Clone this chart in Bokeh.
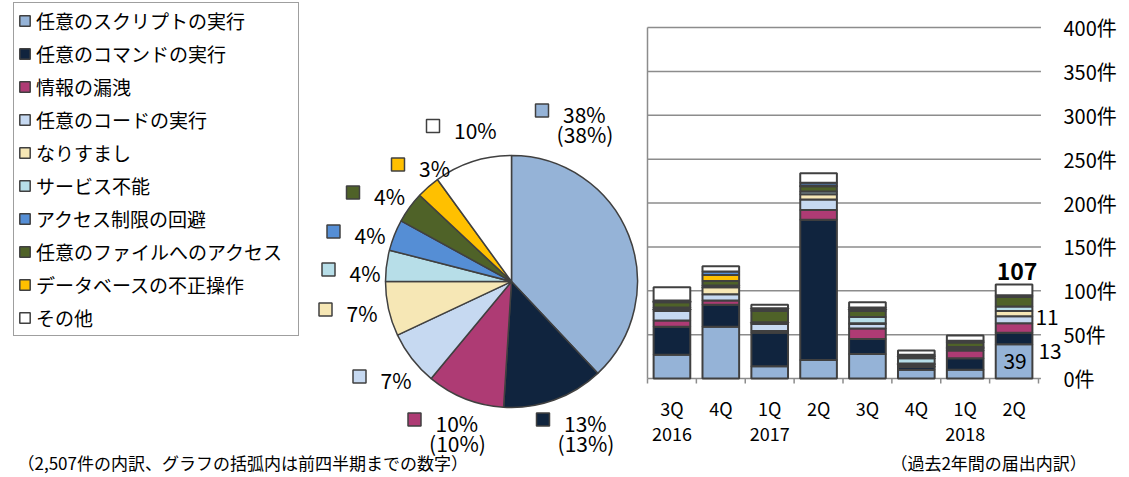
import math
from bokeh.plotting import figure
from bokeh.models import (ColumnDataSource, Range1d, Legend, LegendItem)
from bokeh.embed import file_html
from bokeh.resources import INLINE
from bokeh.core.properties import value

# ---------------- data ----------------
impacts = ["任意のスクリプトの実行", "任意のコマンドの実行", "情報の漏洩", "任意のコードの実行",
           "なりすまし", "サービス不能", "アクセス制限の回避", "任意のファイルへのアクセス",
           "データベースの不正操作", "その他"]
impact_colors = ["#95B3D7", "#10243E", "#AE3B74", "#C6D9F1", "#F6E7B5",
                 "#B7DEE8", "#558ED5", "#4F6228", "#FFC000", "#FFFFFF"]
pie_pct = [38, 13, 10, 7, 7, 4, 4, 4, 3, 10]
pie_prev_pct = [38, 13, 10, None, None, None, None, None, None, None]

quarters = ["3Q", "4Q", "1Q", "2Q", "3Q", "4Q", "1Q", "2Q"]
years = ["2016", "", "2017", "", "", "", "2018", ""]

# quarterly counts by impact (bar stacking order, bottom to top)
script = [27, 59, 14, 21, 28, 10, 10, 39]
command = [32, 25, 38, 160, 17, 3, 13, 13]
leak = [7, 5, 2, 11, 12, 1, 9, 11]
code = [11, 7, 8, 12, 5, 2, 2, 8]
spoof = [2, 8, 1, 6, 1, 1, 1, 6]
dos = [2, 2, 1, 3, 7, 6, 1, 5]
file_access = [6, 5, 13, 6, 7, 2, 5, 11]
database = [1, 7, 1, 1, 2, 1, 1, 1]
access_bypass = [1, 4, 2, 3, 2, 1, 1, 1]
other = [15, 6, 4, 11, 6, 5, 6, 12]

y_ticks = [0, 50, 100, 150, 200, 250, 300, 350, 400]
period_note = "（過去2年間の届出内訳）"
total_note = "（2,507件の内訳、グラフの括弧内は前四半期までの数字）"

# ---------------- styles / layout ----------------
JP = "Noto Sans CJK JP"
EDGE = "#404040"
GRID = "#8C8C8C"
W, H = 1128, 476
# bar panel placement on the canvas (pixels)
BX0, BX1 = 647, 1038        # left / right of the category band
BY0, BYTOP = 378, 27        # pixel rows of value 0 and of the top tick
PIE_X, PIE_Y, PIE_R = 511, 281, 126

p = figure(width=W, height=H, x_range=Range1d(0, W), y_range=Range1d(H, 0),
           output_backend="svg", toolbar_location=None, min_border=0,
           x_axis_location=None, y_axis_location=None, title=None)
p.grid.visible = False
p.outline_line_color = None

# ---- bar chart scales (extra ranges) ----
n = len(quarters)
ymax = y_ticks[-1]
px_per_cat = (BX1 - BX0) / n
px_per_val = (BY0 - BYTOP) / ymax
p.extra_x_ranges = {"bx": Range1d(-BX0 / px_per_cat, (W - BX0) / px_per_cat)}
p.extra_y_ranges = {"by": Range1d(-(H - BY0) / px_per_val, BY0 / px_per_val)}
B = dict(x_range_name="bx", y_range_name="by")

centers = [i + 0.5 for i in range(n)]
series = [script, command, leak, code, spoof, dos, file_access, database, access_bypass, other]
keys = ["script", "command", "leak", "code", "spoof", "dos", "file", "db", "access", "other"]
bar_colors = ["#95B3D7", "#10243E", "#AE3B74", "#C6D9F1", "#F6E7B5",
              "#B7DEE8", "#4F6228", "#FFC000", "#558ED5", "#FFFFFF"]

# grid lines, axis lines, category boundary ticks
p.segment(x0=[0] * len(y_ticks), y0=y_ticks, x1=[n + 0.05] * len(y_ticks), y1=y_ticks,
          line_color=GRID, line_width=1.5, **B)
p.segment(x0=[0], y0=[0], x1=[0], y1=[ymax], line_color=GRID, line_width=1.5, **B)
p.ray(x=list(range(n + 1)), y=[0] * (n + 1), length=5, length_units="screen",
      angle=-math.pi / 2, line_color=GRID, line_width=1.5, **B)

bsrc = ColumnDataSource(dict(x=centers, **{k: s for k, s in zip(keys, series)}))
p.vbar_stack(stackers=keys, x="x", width=0.75, fill_color=bar_colors,
             line_color=EDGE, line_width=2, source=bsrc, **B)

# value axis labels (right)
p.text(x=[n] * len(y_ticks), y=y_ticks, text=[f"{t}件" for t in y_ticks], x_offset=25,
       text_align="left", text_baseline="middle", text_font=value(JP),
       text_font_size="20px", text_color="black", **B)
# category labels
p.text(x=centers, y=[0] * n, text=quarters, y_offset=29, text_align="center",
       text_baseline="middle", text_font=value(JP), text_font_size="18px",
       text_color="black", **B)
yr_idx = [i for i, yv in enumerate(years) if yv]
p.text(x=[centers[i] for i in yr_idx], y=[0] * len(yr_idx), text=[years[i] for i in yr_idx],
       y_offset=55, text_align="center", text_baseline="middle", text_font=value(JP),
       text_font_size="18px", text_color="black", **B)
p.text(x=[n - 1.02], y=[0], text=[period_note], y_offset=84, text_align="center",
       text_baseline="middle", text_font=value(JP), text_font_size="17px",
       text_color="black", **B)

# data labels for the latest quarter
last = n - 1
total_last = sum(s[last] for s in series)
lbl_y = [script[last] / 2,
         script[last] + command[last] / 2,
         script[last] + command[last] + leak[last] / 2]
lbl_t = [str(script[last]), str(command[last]), str(leak[last])]
p.text(x=[centers[last]] * 3, y=lbl_y, text=lbl_t, x_offset=[1, 36, 33], y_offset=[0, 12, -11],
       text_align="center", text_baseline="middle", text_font=value(JP),
       text_font_size="21px", text_color="black", **B)
p.text(x=[centers[last]], y=[total_last], text=[str(total_last)], x_offset=3, y_offset=-5,
       text_align="center", text_baseline="bottom", text_font=value(JP),
       text_font_size="23px", text_font_style="bold", text_color="black", **B)

# ---------------- pie ----------------
total = sum(pie_pct)
starts, ends = [], []
cum = 0
for v in pie_pct:
    starts.append(math.pi / 2 - 2 * math.pi * cum / total)
    cum += v
    ends.append(math.pi / 2 - 2 * math.pi * cum / total)
pie_src = ColumnDataSource(dict(name=impacts, pct=pie_pct, color=impact_colors,
                                start=starts, end=ends))
wr = p.wedge(x=PIE_X, y=PIE_Y, radius=PIE_R, start_angle="start", end_angle="end",
             direction="clock", fill_color="color", line_color=EDGE, line_width=1.5,
             source=pie_src)

# label anchor positions (layout only)
label_pos = [(541.5, 110), (542.5, 419), (414, 419), (359, 376), (325, 309),
             (328, 269), (333, 231), (352.5, 192), (397.5, 164), (432.5, 125.5)]
lsrc = ColumnDataSource(dict(
    x=[q[0] for q in label_pos], y=[q[1] for q in label_pos],
    tx=[q[0] + 21 for q in label_pos], ty=[q[1] + 3.5 for q in label_pos],
    txt=[f"{v}%" for v in pie_pct], color=impact_colors))
p.rect(x="x", y="y", width=13, height=13, width_units="screen", height_units="screen",
       fill_color="color", line_color=EDGE, line_width=1.5, source=lsrc)
p.text(x="tx", y="ty", text="txt", text_baseline="middle", text_align="left",
       text_font=value(JP), text_font_size="21px", text_color="black", source=lsrc)
prev_idx = [i for i, v in enumerate(pie_prev_pct) if v is not None]
psrc = ColumnDataSource(dict(
    x=[label_pos[i][0] + 43 for i in prev_idx], y=[label_pos[i][1] + 23 for i in prev_idx],
    txt=[f"({pie_prev_pct[i]}%)" for i in prev_idx]))
p.text(x="x", y="y", text="txt", text_baseline="middle", text_align="center",
       text_font=value(JP), text_font_size="21px", text_color="black", source=psrc)

p.text(x=[17], y=[462], text=[total_note], text_baseline="middle", text_align="left",
       text_font=value(JP), text_font_size="17px", text_color="black")

legend = Legend(items=[LegendItem(label=nm, renderers=[wr], index=i) for i, nm in enumerate(impacts)],
                location=(13, 140), orientation="vertical",
                border_line_color=EDGE, border_line_width=1.5,
                background_fill_color="white", background_fill_alpha=1.0,
                label_text_font=JP, label_text_font_size="19px", label_text_color="black",
                glyph_width=13, glyph_height=13, label_standoff=5,
                label_height=22, label_width=258, spacing=6, padding=4, margin=0)
p.add_layout(legend)

open("out.html", "w").write(file_html(p, INLINE))
